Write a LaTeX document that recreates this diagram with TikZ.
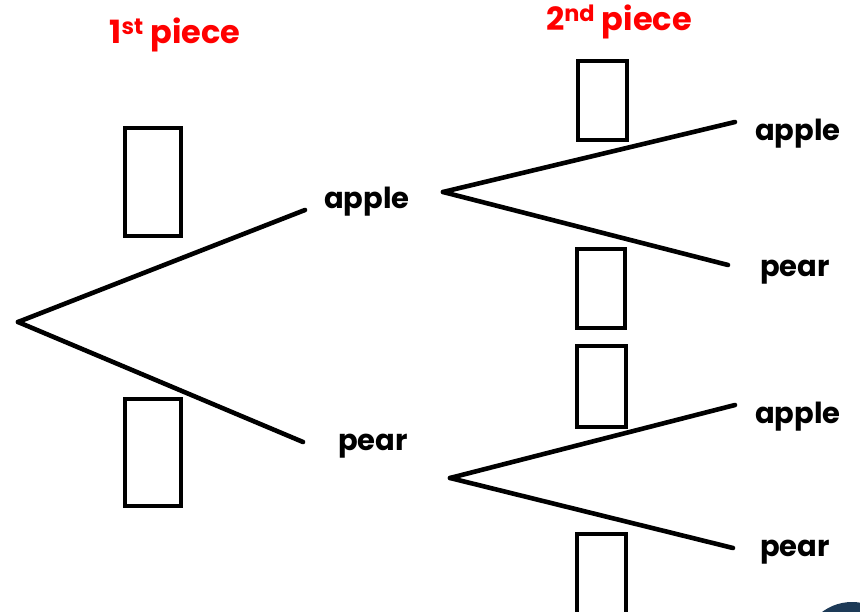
\documentclass[tikz,border=0pt]{standalone}
\usepackage{fontspec}
\setmainfont{Poppins}
\usepackage{xcolor}
\definecolor{headred}{HTML}{FF0000}
\definecolor{navy}{HTML}{1D3A57}

\begin{document}
\begin{tikzpicture}[x=1pt,y=-1pt]
    \tikzset{%
        branch/.style={line width=4.6pt,line cap=round},
        answerbox/.style={line width=3.4pt},
        fruit/.style={font=\fontsize{29}{32}\selectfont\bfseries,inner sep=0pt},
        heading/.style={font=\fontsize{32}{36}\selectfont\bfseries,text=headred,inner sep=0pt}
    }
    \useasboundingbox (0,0) rectangle (860,612);
    % headings
    \node[heading] (h1) at (175,35) {1\textsuperscript{st} piece};
    \node[heading] (h2) at (619,22) {2\textsuperscript{nd} piece};
    % first branches
    \coordinate (root) at (18,322);
    \node[fruit] (a1) at (367,202) {apple};
    \node[fruit] (p1) at (373,446) {pear};
    \coordinate (a1in) at (305,210);
    \coordinate (p1in) at (303,442);
    \draw[branch] (root) -- (a1in);
    \draw[branch] (root) -- (p1in);
    % second branches
    \coordinate (a1out) at (443,192);
    \coordinate (p1out) at (450,478);
    \node[fruit] (aa) at (798,134) {apple};
    \node[fruit] (ap) at (795,272) {pear};
    \node[fruit] (pa) at (798,417) {apple};
    \node[fruit] (pp) at (795,552) {pear};
    \coordinate (aain) at (735,122);
    \coordinate (apin) at (728,265);
    \coordinate (pain) at (735,405);
    \coordinate (ppin) at (733,548);
    \draw[branch] (a1out) -- (aain);
    \draw[branch] (a1out) -- (apin);
    \draw[branch] (p1out) -- (pain);
    \draw[branch] (p1out) -- (ppin);
    % boxes for the chances
    \draw[answerbox] (125,128) rectangle (181,236);
    \draw[answerbox] (125,399) rectangle (181,506);
    \draw[answerbox] (578,61) rectangle (627,140);
    \draw[answerbox] (577,249) rectangle (625,328);
    \draw[answerbox] (577,346) rectangle (626,427);
    \draw[answerbox] (577,534) rectangle (626,620);
    % corner of the badge
    \begin{scope}
        \clip (0,0) rectangle (860,612);
        \fill[navy] (852,652) circle (50);
    \end{scope}
\end{tikzpicture}
\end{document}
